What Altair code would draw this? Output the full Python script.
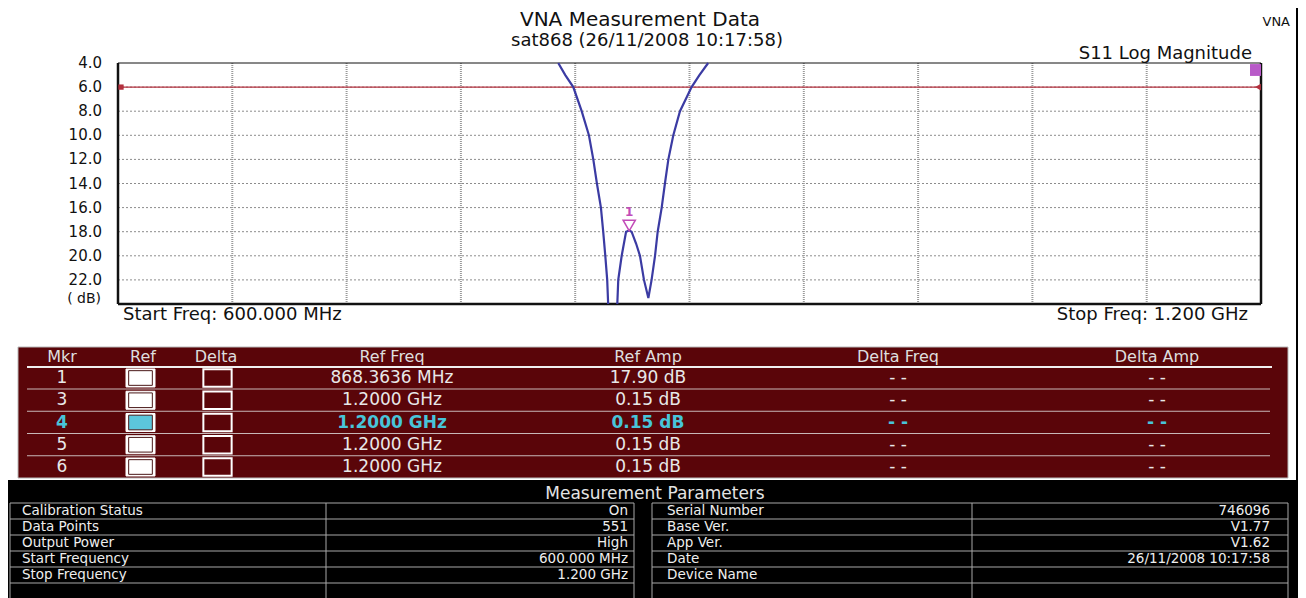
import altair as alt
import pandas as pd

# ---------------- data ----------------
title_text = "VNA Measurement Data"
subtitle_text = "sat868 (26/11/2008 10:17:58)"
corner_text = "VNA"
trace_name = "S11 Log Magnitude"
start_text = "Start Freq: 600.000 MHz"
stop_text = "Stop Freq: 1.200 GHz"
unit_text = "( dB)"

freq_start = 600.0
freq_stop = 1200.0
db_top = 4.0
db_bottom = 24.0
limit_db = 6.0

y_tick_values = [4.0, 6.0, 8.0, 10.0, 12.0, 14.0, 16.0, 18.0, 20.0, 22.0]
x_grid_freqs = [660, 720, 780, 840, 900, 960, 1020, 1080, 1140]
y_grid_dbs = [6.0, 8.0, 10.0, 12.0, 14.0, 16.0, 18.0, 20.0, 22.0]

# visible part of the S11 trace (MHz, dB); it leaves the 24 dB floor between the two segments
seg1_freq = [831.1, 834.8, 839.0, 843.4, 847.2, 849.5, 851.4, 853.5, 854.7, 855.8, 856.8, 857.3]
seg1_db = [4.0, 5.0, 6.0, 8.0, 10.0, 12.0, 14.0, 16.0, 18.0, 20.0, 22.0, 24.0]
seg2_freq = [862.1, 862.6, 864.4, 866.7, 868.36, 869.6, 872.0, 874.0, 876.1, 878.4, 880.1,
             881.9, 883.3, 885.4, 887.1, 888.9, 891.5, 895.0, 901.1, 905.2, 909.8]
seg2_db = [24.0, 22.0, 20.0, 18.0, 17.9, 18.0, 19.0, 20.0, 22.0, 23.5, 22.0,
           20.0, 18.0, 16.0, 14.0, 12.0, 10.0, 8.0, 6.0, 5.0, 4.0]

mkr_ids = [1, 3, 4, 5, 6]
mkr_freq_mhz = [868.3636, 1200.0, 1200.0, 1200.0, 1200.0]
mkr_amp_db = [17.90, 0.15, 0.15, 0.15, 0.15]
mkr_ref_freq_txt = ["868.3636 MHz", "1.2000 GHz", "1.2000 GHz", "1.2000 GHz", "1.2000 GHz"]
mkr_ref_amp_txt = ["17.90 dB", "0.15 dB", "0.15 dB", "0.15 dB", "0.15 dB"]
mkr_delta_freq_txt = ["- -", "- -", "- -", "- -", "- -"]
mkr_delta_amp_txt = ["- -", "- -", "- -", "- -", "- -"]
active_mkr = 4
table_headers = ["Mkr", "Ref", "Delta", "Ref Freq", "Ref Amp", "Delta Freq", "Delta Amp"]

params_title = "Measurement Parameters"
param_left_labels = ["Calibration Status", "Data Points", "Output Power", "Start Frequency", "Stop Frequency", ""]
param_left_values = ["On", "551", "High", "600.000 MHz", "1.200 GHz", ""]
param_right_labels = ["Serial Number", "Base Ver.", "App Ver.", "Date", "Device Name", ""]
param_right_values = ["746096", "V1.77", "V1.62", "26/11/2008 10:17:58", "", ""]

# ---------------- layout ----------------
FONT = "DejaVu Sans"
W, H = 1290, 590
PLOT_X = [110, 1253]
PLOT_Y = [55, 296]
TRACE_COLOR = "#3b3ba3"
RED = "#b3303e"
MAGENTA = "#c24cb8"
TABLE_BG = "#5a0509"
CYAN = "#48c4d9"

one = pd.DataFrame({"k": [0]})
layers = []


def xs():
    return alt.Scale(domain=[freq_start, freq_stop], range=PLOT_X, zero=False, nice=False)


def ys(clamp=False):
    return alt.Scale(domain=[db_top, db_bottom], range=PLOT_Y, zero=False, nice=False, clamp=clamp)


def deco_rect(x, x2, y, y2, **kw):
    return alt.Chart(one).mark_rect(**kw).encode(
        x=alt.value(x), x2=alt.value(x2), y=alt.value(y), y2=alt.value(y2))


def deco_rule(x, x2, y, y2, **kw):
    return alt.Chart(one).mark_rule(**kw).encode(
        x=alt.value(x), x2=alt.value(x2), y=alt.value(y), y2=alt.value(y2))


def label(text, x, y, size, align="center", color="#111111", weight="normal"):
    return alt.Chart(pd.DataFrame({"t": [text]})).mark_text(
        font=FONT, fontSize=size, align=align, baseline="middle", color=color, fontWeight=weight
    ).encode(x=alt.value(x), y=alt.value(y), text="t:N")


# backgrounds
layers.append(deco_rect(0, W, 472, H, color="#000000"))
layers.append(deco_rect(1288, W, 0, 472, color="#000000"))
layers.append(deco_rect(10, 1280, 339, 470, fill=TABLE_BG, stroke="#b8b8b8", strokeWidth=1))

# ---- plot: grid ----
hgrid = pd.DataFrame({"db": y_grid_dbs, "f0": freq_start, "f1": freq_stop})
layers.append(alt.Chart(hgrid).mark_rule(color="#8c8c8c", strokeDash=[2, 2], strokeWidth=1).encode(
    x=alt.X("f0:Q", scale=xs(), axis=None), x2="f1:Q", y=alt.Y("db:Q", scale=ys(), axis=None)))
vgrid = pd.DataFrame({"f": x_grid_freqs, "d0": db_top, "d1": db_bottom})
layers.append(alt.Chart(vgrid).mark_rule(color="#9a9a9a", strokeDash=[1, 1], strokeWidth=2).encode(
    x=alt.X("f:Q", scale=xs(), axis=None), y=alt.Y("d0:Q", scale=ys(), axis=None), y2="d1:Q"))

# limit line
lim = pd.DataFrame({"db": [limit_db], "f0": [freq_start], "f1": [freq_stop]})
layers.append(alt.Chart(lim).mark_rule(color=RED, strokeWidth=1.3).encode(
    x=alt.X("f0:Q", scale=xs(), axis=None), x2="f1:Q", y=alt.Y("db:Q", scale=ys(), axis=None)))

# frame
vframe = pd.DataFrame({"f": [freq_start, freq_stop], "d0": db_top, "d1": db_bottom})
layers.append(alt.Chart(vframe).mark_rule(color="#111111", strokeWidth=2.5).encode(
    x=alt.X("f:Q", scale=xs(), axis=None), y=alt.Y("d0:Q", scale=ys(), axis=None), y2="d1:Q"))
hframe_b = pd.DataFrame({"db": [db_bottom], "f0": [freq_start], "f1": [freq_stop]})
layers.append(alt.Chart(hframe_b).mark_rule(color="#111111", strokeWidth=2.5).encode(
    x=alt.X("f0:Q", scale=xs(), axis=None), x2="f1:Q", y=alt.Y("db:Q", scale=ys(), axis=None)))
hframe_t = pd.DataFrame({"db": [db_top], "f0": [freq_start], "f1": [freq_stop]})
layers.append(alt.Chart(hframe_t).mark_rule(color="#111111", strokeWidth=1).encode(
    x=alt.X("f0:Q", scale=xs(), axis=None), x2="f1:Q", y=alt.Y("db:Q", scale=ys(), axis=None)))

# trace
trace = pd.DataFrame({
    "seg": ["a"] * len(seg1_freq) + ["b"] * len(seg2_freq),
    "i": list(range(len(seg1_freq) + len(seg2_freq))),
    "f": seg1_freq + seg2_freq,
    "db": seg1_db + seg2_db,
})
layers.append(alt.Chart(trace).mark_line(color=TRACE_COLOR, strokeWidth=2.2).encode(
    x=alt.X("f:Q", scale=xs(), axis=None), y=alt.Y("db:Q", scale=ys(), axis=None),
    detail="seg:N", order="i:Q"))

# limit-line end markers
lim_l = pd.DataFrame({"f": [freq_start], "db": [limit_db]})
layers.append(alt.Chart(lim_l).mark_point(shape="square", filled=True, color=RED, size=28, opacity=1, xOffset=3).encode(
    x=alt.X("f:Q", scale=xs(), axis=None), y=alt.Y("db:Q", scale=ys(), axis=None)))
lim_r = pd.DataFrame({"f": [freq_stop], "db": [limit_db]})
layers.append(alt.Chart(lim_r).mark_point(shape="triangle-left", filled=True, color=RED, size=45, opacity=1, xOffset=-3).encode(
    x=alt.X("f:Q", scale=xs(), axis=None), y=alt.Y("db:Q", scale=ys(), axis=None)))

# markers
mk = pd.DataFrame({"mkr": mkr_ids, "f": mkr_freq_mhz, "db": mkr_amp_db})
layers.append(alt.Chart(mk).transform_filter(f"datum.db >= {db_top}").mark_point(
    shape="triangle-down", filled=False, color=MAGENTA, strokeWidth=1.5, size=150, opacity=1, yOffset=-5).encode(
    x=alt.X("f:Q", scale=xs(), axis=None), y=alt.Y("db:Q", scale=ys(), axis=None)))
layers.append(alt.Chart(mk).transform_filter(f"datum.db >= {db_top}").mark_text(
    font=FONT, fontSize=12, fontWeight="bold", color=MAGENTA, yOffset=-18, baseline="middle").encode(
    x=alt.X("f:Q", scale=xs(), axis=None), y=alt.Y("db:Q", scale=ys(), axis=None), text="mkr:N"))
layers.append(alt.Chart(mk).transform_filter(f"datum.db < {db_top}").mark_point(
    shape="square", filled=True, color="#b85ac8", size=120, opacity=1, xOffset=-5.5, yOffset=7).encode(
    x=alt.X("f:Q", scale=xs(), axis=None), y=alt.Y("db:Q", scale=ys(clamp=True), axis=None)))

# tick labels
ticks = pd.DataFrame({"v": y_tick_values})
layers.append(alt.Chart(ticks).mark_text(font=FONT, fontSize=15, align="right", baseline="middle", color="#111111").encode(
    x=alt.value(94), y=alt.Y("v:Q", scale=ys(), axis=None), text=alt.Text("v:Q", format=".1f")))
layers.append(label(unit_text, 93, 291, 14, align="right"))

# start / stop labels
st = pd.DataFrame({"f": [freq_start], "t": [start_text]})
layers.append(alt.Chart(st).mark_text(font=FONT, fontSize=18, align="left", baseline="middle", dx=5, color="#111111").encode(
    x=alt.X("f:Q", scale=xs(), axis=None), y=alt.value(307), text="t:N"))
sp = pd.DataFrame({"f": [freq_stop], "t": [stop_text]})
layers.append(alt.Chart(sp).mark_text(font=FONT, fontSize=18, align="right", baseline="middle", dx=-13, color="#111111").encode(
    x=alt.X("f:Q", scale=xs(), axis=None), y=alt.value(307), text="t:N"))

# titles
layers.append(label(title_text, 632, 12, 20))
layers.append(label(subtitle_text, 639, 33, 18))
layers.append(label(corner_text, 1282, 14, 13, align="right"))
layers.append(label(trace_name, 1244, 46, 18, align="right"))

# ---- marker table ----
tbl = pd.DataFrame({
    "mkr": mkr_ids,
    "ref_freq": mkr_ref_freq_txt,
    "ref_amp": mkr_ref_amp_txt,
    "delta_freq": mkr_delta_freq_txt,
    "delta_amp": mkr_delta_amp_txt,
    "sel": [m == active_mkr for m in mkr_ids],
})


def rows():
    return alt.Scale(type="point", domain=mkr_ids, range=[370, 459], padding=0)


header_x = [54, 135, 208, 384, 640, 890, 1149]
for h, hx in zip(table_headers, header_x):
    layers.append(label(h, hx, 349, 16, color="#dedede"))
layers.append(deco_rule(19, 1264, 359, 359, color="#f0f0f0", strokeWidth=2))
layers.append(alt.Chart(tbl).transform_filter(f"datum.mkr != {mkr_ids[-1]}").mark_rule(
    color="#c8b8b8", strokeWidth=1, yOffset=11).encode(
    y=alt.Y("mkr:O", scale=rows(), axis=None), x=alt.value(19), x2=alt.value(1262)))

for col, cx in [("mkr", 54), ("ref_freq", 384), ("ref_amp", 640), ("delta_freq", 890), ("delta_amp", 1149)]:
    layers.append(alt.Chart(tbl).transform_filter("!datum.sel").mark_text(
        font=FONT, fontSize=17, baseline="middle", color="#e8e8e8").encode(
        x=alt.value(cx), y=alt.Y("mkr:O", scale=rows(), axis=None), text=f"{col}:N"))
    layers.append(alt.Chart(tbl).transform_filter("datum.sel").mark_text(
        font=FONT, fontSize=17, baseline="middle", color=CYAN, fontWeight="bold").encode(
        x=alt.value(cx), y=alt.Y("mkr:O", scale=rows(), axis=None), text=f"{col}:N"))

box_path = "M-1,-0.62H1V0.62H-1Z"
layers.append(alt.Chart(tbl).mark_point(shape=box_path, filled=True, fill="#ffffff", stroke="#ffffff",
                                        strokeWidth=1, size=841, opacity=1).encode(
    x=alt.value(132.5), y=alt.Y("mkr:O", scale=rows(), axis=None)))
layers.append(alt.Chart(tbl).mark_point(shape=box_path, filled=True, stroke="#4a1818",
                                        strokeWidth=1, size=560, opacity=1).encode(
    x=alt.value(132.5), y=alt.Y("mkr:O", scale=rows(), axis=None),
    fill=alt.condition("datum.sel", alt.value("#5cc6dc"), alt.value("#ffffff"))))
layers.append(alt.Chart(tbl).mark_point(shape=box_path, filled=True, fill=TABLE_BG, stroke="#ffffff",
                                        strokeWidth=2, size=800, opacity=1).encode(
    x=alt.value(209.5), y=alt.Y("mkr:O", scale=rows(), axis=None)))

# ---- measurement parameters ----
params = pd.DataFrame({
    "i": list(range(len(param_left_labels))),
    "ll": param_left_labels, "lv": param_left_values,
    "rl": param_right_labels, "rv": param_right_values,
})


def prow():
    return alt.Scale(type="point", domain=list(range(len(param_left_labels))), range=[503, 583], padding=0)


layers.append(label(params_title, 647, 486, 17, color="#e4e4e4"))
for x0, x1 in [(2, 626), (644, 1280)]:
    layers.append(alt.Chart(params).mark_rule(color="#a8a8a8", strokeWidth=1, yOffset=-8).encode(
        y=alt.Y("i:O", scale=prow(), axis=None), x=alt.value(x0), x2=alt.value(x1)))
for vx in [2, 318, 626, 644, 964, 1280]:
    layers.append(deco_rule(vx, vx, 495, H, color="#a8a8a8", strokeWidth=1))
for col, cx, al in [("ll", 14, "left"), ("lv", 620, "right"), ("rl", 659, "left"), ("rv", 1262, "right")]:
    layers.append(alt.Chart(params).mark_text(font=FONT, fontSize=13.5, baseline="middle", align=al, color="#eeeeee").encode(
        x=alt.value(cx), y=alt.Y("i:O", scale=prow(), axis=None), text=f"{col}:N"))

chart = alt.layer(*layers).resolve_scale(x="independent", y="independent").properties(
    width=W, height=H, padding=0, background="#ffffff",
    autosize=alt.AutoSizeParams(type="none", contains="padding"),
).configure_view(stroke=None)

chart.save("out.html", embed_options={"renderer": "svg", "actions": False})
